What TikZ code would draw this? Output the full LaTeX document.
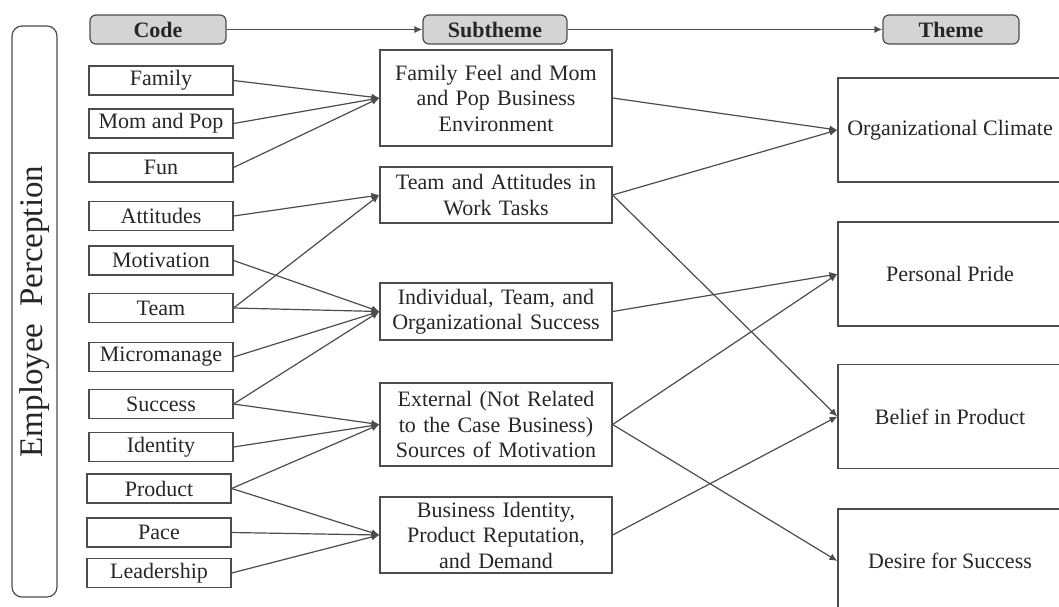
\documentclass[tikz,border=0pt]{standalone}
\usepackage{fontspec}
\setmainfont{Liberation Serif}
\usetikzlibrary{arrows.meta}

\begin{document}
\begin{tikzpicture}[
    x=0.5pt, y=-0.5pt,
    font=\fontsize{11}{12.75}\selectfont,
    box/.style={draw=black!70, line width=0.6pt, align=center, inner sep=2pt, text=black!85},
    codebox/.style={box, minimum width=72pt, minimum height=14.5pt},
    subbox/.style={box, text width=112pt, minimum height=#1},
    themebox/.style={box, minimum width=112pt, minimum height=52pt},
    headbox/.style={box, fill=black!17, rounded corners=3pt,
      font=\fontsize{11}{12.75}\selectfont\bfseries,
      minimum width=#1, minimum height=14.5pt},
    link/.style={draw=black!70, line width=0.6pt, -{Latex[length=4pt,width=3.5pt]}}
  ]
  \useasboundingbox (0,0) rectangle (1059,606);

  % side label
  \node[box, rounded corners=5pt, rotate=90, minimum width=285.5pt, minimum height=22.5pt,
    font=\fontsize{16.5}{18}\selectfont] (emp) at (34.5,311.5) {Employee\ \ Perception};

  % headers
  \node[headbox=68pt] (hcode) at (158,29.5) {Code};
  \node[headbox=72pt] (hsub) at (495,29.5) {Subtheme};
  \node[headbox=68pt] (htheme) at (951,29.5) {Theme};
  \draw[link] (hcode) -- (hsub);
  \draw[link] (hsub) -- (htheme);

  % codes
  \node[codebox] (family) at (161,80.5) {Family};
  \node[codebox] (mompop) at (161,123.5) {Mom and Pop};
  \node[codebox] (fun) at (161,167.5) {Fun};
  \node[codebox] (attitudes) at (161,216) {Attitudes};
  \node[codebox] (motivation) at (161,260.5) {Motivation};
  \node[codebox] (team) at (161,308) {Team};
  \node[codebox] (micro) at (161,357) {Micromanage};
  \node[codebox] (success) at (161,404) {Success};
  \node[codebox] (identity) at (161,447) {Identity};
  \node[codebox] (product) at (159,488.5) {Product};
  \node[codebox] (pace) at (159,532.5) {Pace};
  \node[codebox] (leader) at (159,573) {Leadership};

  % subthemes
  \node[subbox=48pt] (sfamily) at (496,98) {Family Feel and Mom\\and Pop Business\\Environment};
  \node[subbox=28pt] (steam) at (496,195) {Team and Attitudes in\\Work Tasks};
  \node[subbox=28.5pt] (ssuccess) at (496,311.5) {Individual, Team, and\\Organizational Success};
  \node[subbox=41.5pt] (sexternal) at (496,424.5) {External (Not Related\\to the Case Business)\\Sources of Motivation};
  \node[subbox=38pt] (sbusiness) at (496,535) {Business Identity,\\Product Reputation,\\and Demand};

  % themes
  \node[themebox] (tclimate) at (950,130) {Organizational\ Climate};
  \node[themebox] (tpride) at (950,274) {Personal Pride};
  \node[themebox] (tbelief) at (950,416.5) {Belief in Product};
  \node[themebox] (tdesire) at (950,561) {Desire for Success};

  % code -> subtheme
  \draw[link] (family.east) -- (sfamily.west);
  \draw[link] (mompop.east) -- (sfamily.west);
  \draw[link] (fun.east) -- (sfamily.west);
  \draw[link] (attitudes.east) -- (steam.west);
  \draw[link] (team.east) -- (steam.west);
  \draw[link] (motivation.east) -- (ssuccess.west);
  \draw[link] (team.east) -- (ssuccess.west);
  \draw[link] (micro.east) -- (ssuccess.west);
  \draw[link] (success.east) -- (ssuccess.west);
  \draw[link] (success.east) -- (sexternal.west);
  \draw[link] (identity.east) -- (sexternal.west);
  \draw[link] (product.east) -- (sexternal.west);
  \draw[link] (product.east) -- (sbusiness.west);
  \draw[link] (pace.east) -- (sbusiness.west);
  \draw[link] (leader.east) -- (sbusiness.west);

  % subtheme -> theme
  \draw[link] (sfamily.east) -- (tclimate.west);
  \draw[link] (steam.east) -- (tclimate.west);
  \draw[link] (steam.east) -- (tbelief.west);
  \draw[link] (ssuccess.east) -- (tpride.west);
  \draw[link] (sexternal.east) -- (tpride.west);
  \draw[link] (sexternal.east) -- (tdesire.west);
  \draw[link] (sbusiness.east) -- (tbelief.west);
\end{tikzpicture}
\end{document}
